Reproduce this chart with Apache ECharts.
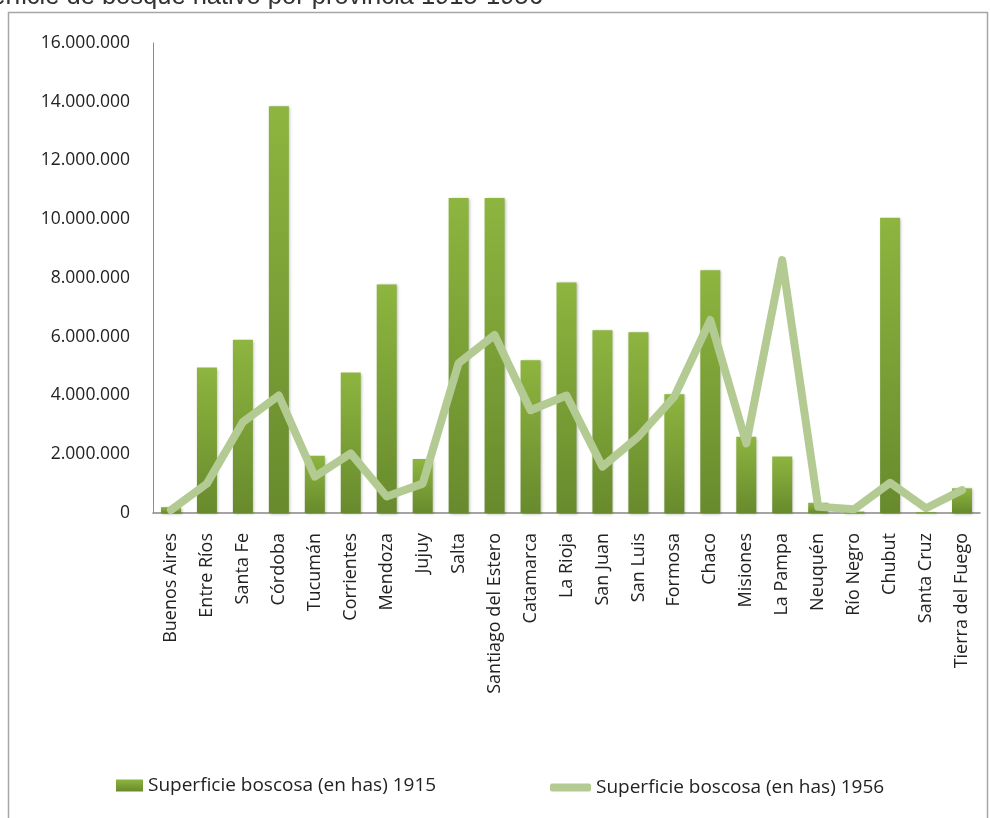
<!DOCTYPE html>
<html>
<head>
<meta charset="utf-8">
<script src="https://cdn.jsdelivr.net/npm/echarts@6/dist/echarts.min.js"></script>
<style>
html,body{margin:0;padding:0;background:#fff;}
#chart{width:990px;height:818px;}
</style>
</head>
<body>
<div id="chart"></div>
<script>
// ---- data ----
const titleText = 'Superficie de bosque nativo por provincia 1915-1956';
const provincias = ['Buenos Aires','Entre Ríos','Santa Fe','Córdoba','Tucumán','Corrientes','Mendoza','Jujuy','Salta','Santiago del Estero','Catamarca','La Rioja','San Juan','San Luis','Formosa','Chaco','Misiones','La Pampa','Neuquén','Río Negro','Chubut','Santa Cruz','Tierra del Fuego'];
const serie1915Name = 'Superficie boscosa (en has) 1915';
const serie1956Name = 'Superficie boscosa (en has) 1956';
const sup1915 = [200000, 4950000, 5900000, 13850000, 1950000, 4780000, 7780000, 1840000, 10720000, 10720000, 5200000, 7850000, 6220000, 6150000, 4040000, 8260000, 2600000, 1920000, 350000, 50000, 10050000, 30000, 840000];
const sup1956 = [100000, 1000000, 3100000, 4000000, 1240000, 2030000, 560000, 1000000, 5100000, 6060000, 3500000, 4000000, 1580000, 2600000, 3960000, 6570000, 2370000, 8610000, 210000, 130000, 1030000, 160000, 780000];
const yMin = 0, yMax = 16000000, yStep = 2000000;

function fmt(v){ return String(Math.round(v)).replace(/\B(?=(\d{3})+(?!\d))/g, '.'); }

const barGrad = new echarts.graphic.LinearGradient(0,0,0,1,[
  {offset:0,color:'#8db53f'},{offset:1,color:'#688a2d'}]);
const FONT = '"Open Sans", "Liberation Sans", sans-serif';

const chart = echarts.init(document.getElementById('chart'), null, {renderer:'canvas'});
chart.setOption({
  animation:false,
  backgroundColor:'#ffffff',
  title:{
    text:titleText, left:-59, top:-21,
    textStyle:{fontFamily:'"Liberation Sans", Arial, sans-serif', fontSize:25.5, fontWeight:'normal', color:'#333333'}
  },
  graphic:[{
    type:'rect', z:-1, silent:true,
    shape:{x:8.5,y:12.5,width:979,height:830},
    style:{fill:'none',stroke:'#a6a6a6',lineWidth:1.5}
  }],
  legend:[{
    left:111, top:771, itemWidth:27, itemHeight:12, icon:'rect',
    data:[serie1915Name],
    textStyle:{fontFamily:FONT,fontSize:19,color:'#222'}
  },{
    left:545, top:773, itemWidth:41, itemHeight:8, icon:'roundRect',
    data:[serie1956Name],
    textStyle:{fontFamily:FONT,fontSize:19,color:'#222'}
  }],
  grid:{left:153,right:10,top:43,bottom:305,containLabel:false},
  xAxis:{
    type:'category', data:provincias,
    axisLine:{lineStyle:{color:'#868686',width:1.5}},
    axisTick:{show:false},
    axisLabel:{interval:0, rotate:90, margin:20, fontFamily:FONT, fontSize:18, color:'#222'}
  },
  yAxis:{
    type:'value', min:yMin, max:yMax, interval:yStep,
    axisLine:{show:true,lineStyle:{color:'#8c8c8c',width:1}},
    axisTick:{show:false},
    splitLine:{show:false},
    axisLabel:{margin:23, fontFamily:FONT, fontSize:17.5, color:'#222', formatter:fmt}
  },
  series:[{
    name:serie1915Name, type:'bar', data:sup1915, barWidth:20,
    itemStyle:{color:barGrad, shadowColor:'rgba(0,0,0,0.3)', shadowBlur:3, shadowOffsetX:1, shadowOffsetY:1}
  },{
    name:serie1956Name, type:'line', data:sup1956, symbol:'none', z:3,
    itemStyle:{color:'#b3cb92'},
    lineStyle:{color:'#b3cb92', width:8, cap:'round', join:'round'}
  }]
});
</script>
</body>
</html>
